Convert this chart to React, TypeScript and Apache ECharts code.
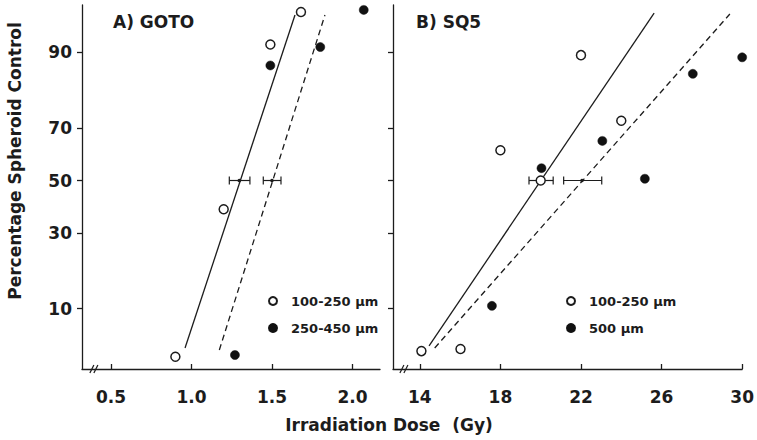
import React, { useEffect, useRef } from "react";
import * as echarts from "echarts";

const FONT = "DejaVu Sans";
const INK = "#1c1c1c";

// Probit-scale y axis (percentage spheroid control)
const yTickPcts = [10, 30, 50, 70, 90];
const Y_MIN = -1.885;
const Y_MAX = 1.755;
const D50_PCT = 50;

// Panel A) GOTO
const gotoTicks = [0.5, 1.0, 1.5, 2.0];
const gotoSmallDose = [0.9, 1.2, 1.49, 1.68];
const gotoSmallPct = [3.9, 38.7, 91.3, 95.4];
const gotoLargeDose = [1.27, 1.49, 1.8, 2.07];
const gotoLargePct = [4.05, 87.5, 90.9, 95.6];
const gotoSmallFitDose = [0.96, 1.643];
const gotoSmallFitPct = [4.7, 95.1];
const gotoLargeFitDose = [1.173, 1.829];
const gotoLargeFitPct = [4.5, 95.1];
const gotoSmallD50 = [1.235, 1.363, 1.297]; // low, high, centre
const gotoLargeD50 = [1.446, 1.556, 1.5];
const gotoBreak = [0.4];

// Panel B) SQ5
const sq5Ticks = [14, 18, 22, 26, 30];
const sq5SmallDose = [14.08, 16.02, 18.0, 20.0, 22.0, 24.0];
const sq5SmallPct = [4.4, 4.6, 61.9, 50, 89.5, 72.5];
const sq5LargeDose = [17.58, 20.04, 23.06, 25.17, 27.55, 30.0];
const sq5LargePct = [10.5, 54.9, 65.4, 50.7, 85.7, 89.1];
const sq5SmallFitDose = [14.46, 25.63];
const sq5SmallFitPct = [4.9, 95.3];
const sq5LargeFitDose = [14.74, 29.39];
const sq5LargeFitPct = [4.7, 95.2];
const sq5SmallD50 = [19.42, 20.62, 20.0];
const sq5LargeD50 = [21.14, 23.03, 22.05];
const sq5Break = [13.26];

const SMALL = "100-250 µm";
const LARGE_A = "250-450 µm";
const LARGE_B = "500 µm";

// inverse normal CDF (Acklam), percent -> probit units
function probit(pct: number): number {
  const p = pct / 100;
  const a = [-3.969683028665376e1, 2.209460984245205e2, -2.759285104469687e2, 1.38357751867269e2, -3.066479806614716e1, 2.506628277459239];
  const b = [-5.447609879822406e1, 1.615858368580409e2, -1.556989798598866e2, 6.680131188771972e1, -1.328068155288572e1];
  const c = [-7.784894002430293e-3, -3.223964580411365e-1, -2.400758277161838, -2.549671039504624, 4.374664141464968, 2.938163982698783];
  const d = [7.784695709041462e-3, 3.224671290700398e-1, 2.445134137142996, 3.754408661907416];
  const pl = 0.02425;
  if (p < pl) {
    const q = Math.sqrt(-2 * Math.log(p));
    return (((((c[0] * q + c[1]) * q + c[2]) * q + c[3]) * q + c[4]) * q + c[5]) / ((((d[0] * q + d[1]) * q + d[2]) * q + d[3]) * q + 1);
  }
  if (p > 1 - pl) {
    const q = Math.sqrt(-2 * Math.log(1 - p));
    return -(((((c[0] * q + c[1]) * q + c[2]) * q + c[3]) * q + c[4]) * q + c[5]) / ((((d[0] * q + d[1]) * q + d[2]) * q + d[3]) * q + 1);
  }
  const q = p - 0.5;
  const r = q * q;
  return ((((((a[0] * r + a[1]) * r + a[2]) * r + a[3]) * r + a[4]) * r + a[5]) * q) / (((((b[0] * r + b[1]) * r + b[2]) * r + b[3]) * r + b[4]) * r + 1);
}

const yTickVals = yTickPcts.map(probit);
const zip = (xs: number[], ps: number[]) => xs.map((x, i) => [x, probit(ps[i])]);

const labelFont = { fontFamily: FONT, fontSize: 17, fontWeight: "bold" as const, color: INK };
const axisLine = { show: true, onZero: false, lineStyle: { color: INK, width: 1.3 } };

function xAxis(grid: number, min: number, max: number, ticks: number[], digits: number) {
  return {
    type: "value",
    gridIndex: grid,
    min,
    max,
    axisLine,
    axisTick: { show: true, inside: true, length: 5, customValues: ticks, lineStyle: { color: INK, width: 1.3 } },
    axisLabel: { show: true, customValues: ticks, margin: 19, formatter: (v: number) => v.toFixed(digits), ...labelFont },
    splitLine: { show: false },
  };
}

function yAxis(grid: number, labels: boolean) {
  return {
    type: "value",
    gridIndex: grid,
    min: Y_MIN,
    max: Y_MAX,
    axisLine,
    axisTick: { show: true, inside: false, length: 5, customValues: yTickVals, lineStyle: { color: INK, width: 1.3 } },
    axisLabel: {
      show: labels,
      customValues: yTickVals,
      margin: 10,
      formatter: (v: number) => {
        let best = 0;
        yTickVals.forEach((t, i) => {
          if (Math.abs(t - v) < Math.abs(yTickVals[best] - v)) best = i;
        });
        return String(yTickPcts[best]);
      },
      ...labelFont,
    },
    splitLine: { show: false },
  };
}

function scatter(name: string, grid: number, xs: number[], ps: number[], open: boolean) {
  return {
    type: "scatter",
    name,
    xAxisIndex: grid,
    yAxisIndex: grid,
    symbol: "circle",
    symbolSize: 9,
    z: 5,
    silent: true,
    itemStyle: open
      ? { color: "#ffffff", borderColor: INK, borderWidth: 1.5, opacity: 1 }
      : { color: "#111111", borderColor: "#111111", borderWidth: 0.5, opacity: 1 },
    data: zip(xs, ps),
  };
}

function fitLine(grid: number, xs: number[], ps: number[], dashed: boolean) {
  return {
    type: "line",
    xAxisIndex: grid,
    yAxisIndex: grid,
    symbol: "none",
    silent: true,
    z: 3,
    lineStyle: { color: INK, width: 1.3, type: dashed ? [6, 4] : "solid" },
    data: zip(xs, ps),
  };
}

const errorBarRender = (_params: any, api: any) => {
  const y = probit(api.value(3));
  const lo = api.coord([api.value(0), y]);
  const hi = api.coord([api.value(1), y]);
  const c = api.coord([api.value(2), y]);
  const st = { stroke: INK, lineWidth: 1.2, fill: "none" };
  return {
    type: "group",
    children: [
      { type: "line", shape: { x1: lo[0], y1: lo[1], x2: hi[0], y2: hi[1] }, style: st },
      { type: "line", shape: { x1: lo[0], y1: lo[1] - 4, x2: lo[0], y2: lo[1] + 4 }, style: st },
      { type: "line", shape: { x1: hi[0], y1: hi[1] - 4, x2: hi[0], y2: hi[1] + 4 }, style: st },
      { type: "circle", shape: { cx: c[0], cy: c[1], r: 1.8 }, style: { fill: INK } },
    ],
  };
};

function errorBars(grid: number, bars: number[][]) {
  return {
    type: "custom",
    xAxisIndex: grid,
    yAxisIndex: grid,
    silent: true,
    clip: false,
    z: 4,
    encode: { x: [0, 1, 2] },
    renderItem: errorBarRender,
    data: bars.map((b) => [b[0], b[1], b[2], D50_PCT]),
  };
}

const breakRender = (_params: any, api: any) => {
  const p = api.coord([api.value(0), Y_MIN]);
  const st = { stroke: INK, lineWidth: 1.2 };
  return {
    type: "group",
    children: [
      { type: "line", shape: { x1: p[0] - 5, y1: p[1] + 4, x2: p[0] - 1, y2: p[1] - 4 }, style: st },
      { type: "line", shape: { x1: p[0] - 1, y1: p[1] + 4, x2: p[0] + 3, y2: p[1] - 4 }, style: st },
    ],
  };
};

function breakMark(grid: number, xs: number[]) {
  return {
    type: "custom",
    xAxisIndex: grid,
    yAxisIndex: grid,
    silent: true,
    clip: false,
    z: 6,
    encode: { x: 0 },
    renderItem: breakRender,
    data: xs.map((x) => [x]),
  };
}

const legendBase = {
  orient: "vertical",
  top: 292,
  itemWidth: 26,
  itemHeight: 8,
  itemGap: 9,
  padding: 0,
  selectedMode: false,
  textStyle: { fontFamily: FONT, fontSize: 13, fontWeight: "bold", color: INK, lineHeight: 18 },
};

const titleStyle = { fontFamily: FONT, fontSize: 17, fontWeight: "bold", color: INK };
const textStyleCommon = {
  fill: INK,
  fontFamily: FONT,
  fontSize: 17,
  fontWeight: "bold",
  align: "center",
  verticalAlign: "middle",
  textAlign: "center",
  textVerticalAlign: "middle",
};

const option: any = {
  animation: false,
  backgroundColor: "#ffffff",
  title: [
    { text: "A) GOTO", left: 113, top: 13, padding: 0, textStyle: titleStyle },
    { text: "B) SQ5", left: 416, top: 13, padding: 0, textStyle: titleStyle },
  ],
  legend: [
    { ...legendBase, left: 268, data: [SMALL, LARGE_A] },
    { ...legendBase, left: 566, data: [SMALL, LARGE_B] },
  ],
  grid: [
    { left: 82, top: 5, width: 298, height: 364 },
    { left: 393, top: 5, width: 351, height: 364 },
  ],
  xAxis: [xAxis(0, 0.32, 2.171, gotoTicks, 1), xAxis(1, 12.67, 30, sq5Ticks, 0)],
  yAxis: [yAxis(0, true), yAxis(1, false)],
  graphic: [
    { type: "text", x: 389, y: 425, style: { ...textStyleCommon, text: "Irradiation Dose  (Gy)" } },
    { type: "text", x: 15, y: 161, rotation: Math.PI / 2, style: { ...textStyleCommon, text: "Percentage Spheroid Control" } },
  ],
  series: [
    fitLine(0, gotoSmallFitDose, gotoSmallFitPct, false),
    fitLine(0, gotoLargeFitDose, gotoLargeFitPct, true),
    errorBars(0, [gotoSmallD50, gotoLargeD50]),
    scatter(SMALL, 0, gotoSmallDose, gotoSmallPct, true),
    scatter(LARGE_A, 0, gotoLargeDose, gotoLargePct, false),
    breakMark(0, gotoBreak),
    fitLine(1, sq5SmallFitDose, sq5SmallFitPct, false),
    fitLine(1, sq5LargeFitDose, sq5LargeFitPct, true),
    errorBars(1, [sq5SmallD50, sq5LargeD50]),
    scatter(SMALL, 1, sq5SmallDose, sq5SmallPct, true),
    scatter(LARGE_B, 1, sq5LargeDose, sq5LargePct, false),
    breakMark(1, sq5Break),
  ],
};

export default function App() {
  const ref = useRef<HTMLDivElement>(null);
  useEffect(() => {
    const chart = echarts.init(ref.current as HTMLDivElement, null, { renderer: "svg" });
    chart.setOption(option);
    return () => chart.dispose();
  }, []);
  return (
    <div
      ref={ref}
      style={{ position: "absolute", left: 0, top: 0, width: 757, height: 440, background: "#ffffff" }}
    />
  );
}
